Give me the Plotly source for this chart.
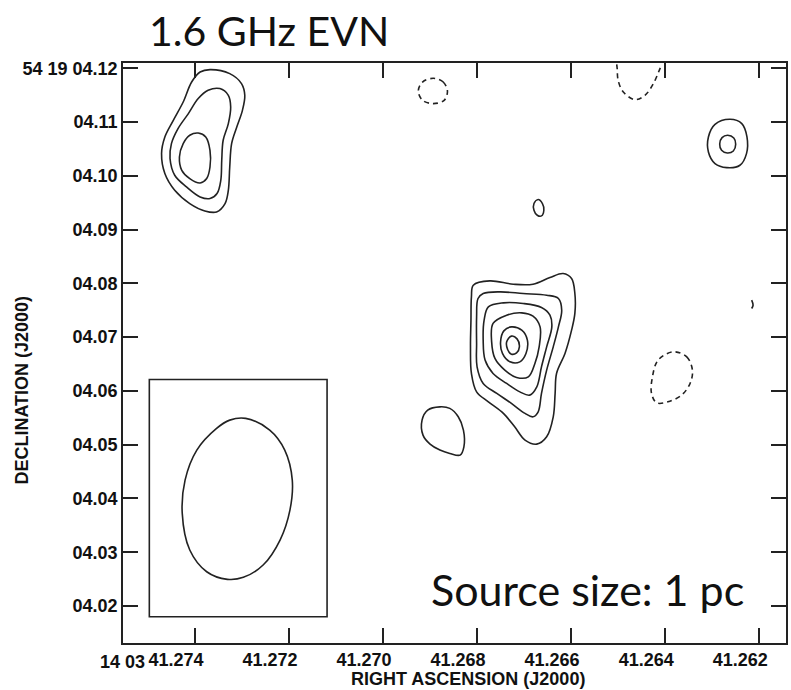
import plotly.graph_objects as go

# contour levels: RA seconds (14h03m) and Dec arcsec (+54d19m)
# north-east component
ne_outer_ra = [41.27368, 41.27326, 41.27301, 41.27294, 41.27299, 41.27311, 41.27322, 41.27326, 41.27329,
               41.27336, 41.27354, 41.27379, 41.27411, 41.27443, 41.27464, 41.27471, 41.27464, 41.27446,
               41.27425, 41.27407, 41.27389]
ne_outer_dec = [4.11976, 4.11901, 4.11716, 4.11498, 4.11219, 4.10909, 4.10600, 4.10165, 4.09732,
                4.09485, 4.09329, 4.09348, 4.09485, 4.09732, 4.10043, 4.10414, 4.10723, 4.11033,
                4.11374, 4.11745, 4.11931]
ne_mid_ra = [41.27347, 41.27329, 41.27324, 41.27329, 41.27340, 41.27343, 41.27345, 41.27353, 41.27368,
             41.27389, 41.27418, 41.27443, 41.27453, 41.27450, 41.27436, 41.27414, 41.27393, 41.27372]
ne_mid_dec = [4.11623, 4.11498, 4.11281, 4.10972, 4.10662, 4.10290, 4.09918, 4.09671, 4.09578,
              4.09608, 4.09794, 4.10011, 4.10322, 4.10600, 4.10879, 4.11158, 4.11437, 4.11591]
ne_inner_ra = [41.27393, 41.27377, 41.27368, 41.27368, 41.27375, 41.27389, 41.27411, 41.27428, 41.27433,
               41.27425, 41.27411]
ne_inner_dec = [4.10797, 4.10723, 4.10476, 4.10165, 4.09950, 4.09868, 4.09950, 4.10104, 4.10351,
                4.10600, 4.10755]

# north-west component
nw_outer_ra = [41.26262, 41.26237, 41.26226, 41.26227, 41.26241, 41.26269, 41.26294, 41.26308, 41.26308, 41.26294]
nw_outer_dec = [4.11052, 4.10972, 4.10723, 4.10414, 4.10197, 4.10154, 4.10229, 4.10444, 4.10723, 4.10959]
nw_inner_ra = [41.26267, 41.26254, 41.26250, 41.26255, 41.26268, 41.26280, 41.26284, 41.26279]
nw_inner_dec = [4.10755, 4.10704, 4.10587, 4.10463, 4.10426, 4.10476, 4.10593, 4.10712]

# main component
m1_ra = [41.26808, 41.26773, 41.26723, 41.26681, 41.26645, 41.26617, 41.26599, 41.26592, 41.26592, 41.26599,
         41.26613, 41.26631, 41.26634, 41.26638, 41.26652, 41.26673, 41.26698, 41.26720, 41.26744, 41.26776,
         41.26801, 41.26812, 41.26814, 41.26813, 41.26812]
m1_dec = [4.07967, 4.08046, 4.07985, 4.07985, 4.08110, 4.08184, 4.08091, 4.07812, 4.07441, 4.07130,
          4.06697, 4.06325, 4.05954, 4.05519, 4.05147, 4.05011, 4.05085, 4.05333, 4.05582, 4.05797,
          4.05983, 4.06325, 4.06820, 4.07316, 4.07749]
m2_ra = [41.26787, 41.26751, 41.26702, 41.26652, 41.26627, 41.26620, 41.26627, 41.26638, 41.26652, 41.26663,
         41.26670, 41.26681, 41.26698, 41.26727, 41.26758, 41.26787, 41.26800, 41.26801, 41.26801, 41.26798]
m2_dec = [4.07812, 4.07842, 4.07812, 4.07781, 4.07719, 4.07502, 4.07191, 4.06820, 4.06387, 4.05954,
          4.05612, 4.05519, 4.05582, 4.05768, 4.05954, 4.06139, 4.06448, 4.06883, 4.07377, 4.07719]
m3_ra = [41.26776, 41.26744, 41.26702, 41.26663, 41.26645, 41.26641, 41.26652, 41.26663, 41.26673, 41.26688,
         41.26709, 41.26737, 41.26766, 41.26783, 41.26787, 41.26785]
m3_dec = [4.07563, 4.07638, 4.07626, 4.07552, 4.07409, 4.07191, 4.06820, 4.06448, 4.06076, 4.05922,
          4.05983, 4.06139, 4.06325, 4.06573, 4.06944, 4.07316]
m4_ra = [41.26766, 41.26737, 41.26705, 41.26681, 41.26666, 41.26668, 41.26677, 41.26691, 41.26716, 41.26741,
         41.26762, 41.26769]
m4_dec = [4.07255, 4.07409, 4.07452, 4.07390, 4.07191, 4.06820, 4.06511, 4.06262, 4.06251, 4.06387,
          4.06604, 4.06913]
m5_ra = [41.26727, 41.26705, 41.26693, 41.26696, 41.26709, 41.26730, 41.26746, 41.26750, 41.26743]
m5_dec = [4.07191, 4.07130, 4.06944, 4.06697, 4.06541, 4.06541, 4.06697, 4.06913, 4.07117]
m6_ra = [41.26727, 41.26715, 41.26710, 41.26716, 41.26727, 41.26735, 41.26737]
m6_dec = [4.07019, 4.06968, 4.06820, 4.06708, 4.06684, 4.06771, 4.06913]

# small positive islands
sw_ra = [41.26917, 41.26905, 41.26879, 41.26858, 41.26840, 41.26829, 41.26828, 41.26836, 41.26858, 41.26879,
         41.26900, 41.26915]
sw_dec = [4.05457, 4.05643, 4.05704, 4.05675, 4.05519, 4.05271, 4.04961, 4.04807, 4.04838, 4.04900,
          4.05011, 4.05178]
blob_ra = [41.26670, 41.26661, 41.26658, 41.26663, 41.26672, 41.26679, 41.26679]
blob_dec = [4.09559, 4.09485, 4.09361, 4.09255, 4.09268, 4.09361, 4.09485]
hook_ra = [41.26216, 41.26213, 41.26216]
hook_dec = [4.07688, 4.07595, 4.07533]

# negative contours (dashed)
neg1_ra = [41.26893, 41.26872, 41.26863, 41.26870, 41.26893, 41.26916, 41.26925, 41.26916]
neg1_dec = [4.11814, 4.11745, 4.11578, 4.11405, 4.11344, 4.11405, 4.11578, 4.11745]
neg2_ra = [41.26503, 41.26502, 41.26500, 41.26489, 41.26464, 41.26443, 41.26425, 41.26411, 41.26407]
neg2_dec = [4.12074, 4.11994, 4.11777, 4.11559, 4.11418, 4.11498, 4.11716, 4.11994, 4.12074]
neg3_ra = [41.26383, 41.26354, 41.26342, 41.26347, 41.26365, 41.26394, 41.26418, 41.26429, 41.26427, 41.26415]
neg3_dec = [4.06727, 4.06634, 4.06387, 4.06139, 4.05922, 4.05797, 4.05779, 4.05954, 4.06262, 4.06573]

# restoring beam and its box
beam_ra = [41.27292, 41.27241, 41.27209, 41.27193, 41.27198, 41.27219, 41.27255, 41.27297, 41.27331,
           41.27375, 41.27411, 41.27427, 41.27421, 41.27396, 41.27354, 41.27326]
beam_dec = [4.05489, 4.05271, 4.04900, 4.04342, 4.03784, 4.03227, 4.02762, 4.02533, 4.02496,
            4.02637, 4.03041, 4.03723, 4.04342, 4.04900, 4.05303, 4.05457]
box_ra = [41.27497, 41.27119]
box_dec = [4.01801, 4.06214]

ra_ticks = [41.274, 41.272, 41.270, 41.268, 41.266, 41.264, 41.262]
ra_labels = ['41.274', '41.272', '41.270', '41.268', '41.266', '41.264', '41.262']
ra_prefix = '14 03'
dec_ticks = [4.12, 4.11, 4.10, 4.09, 4.08, 4.07, 4.06, 4.05, 4.04, 4.03, 4.02]
dec_labels = ['54 19 04.12', '04.11', '04.10', '04.09', '04.08', '04.07', '04.06', '04.05',
              '04.04', '04.03', '04.02']

INK = '#222222'


def loop(xs, ys, closed=True):
    if closed:
        xs = list(xs) + [xs[0]]
        ys = list(ys) + [ys[0]]
    return xs, ys


fig = go.Figure()

solid = [(ne_outer_ra, ne_outer_dec), (ne_mid_ra, ne_mid_dec), (ne_inner_ra, ne_inner_dec),
         (nw_outer_ra, nw_outer_dec), (nw_inner_ra, nw_inner_dec),
         (m1_ra, m1_dec), (m2_ra, m2_dec), (m3_ra, m3_dec), (m4_ra, m4_dec), (m5_ra, m5_dec),
         (m6_ra, m6_dec), (sw_ra, sw_dec), (blob_ra, blob_dec), (beam_ra, beam_dec)]
for xs, ys in solid:
    x, y = loop(xs, ys)
    fig.add_trace(go.Scatter(x=x, y=y, mode='lines',
                             line=dict(color=INK, width=1.6, shape='spline', smoothing=1.0)))

fig.add_trace(go.Scatter(x=hook_ra, y=hook_dec, mode='lines',
                         line=dict(color=INK, width=1.6, shape='spline')))

for xs, ys, closed in [(neg1_ra, neg1_dec, True), (neg2_ra, neg2_dec, False), (neg3_ra, neg3_dec, True)]:
    x, y = loop(xs, ys, closed)
    fig.add_trace(go.Scatter(x=x, y=y, mode='lines',
                             line=dict(color=INK, width=1.6, dash='5px,4px', shape='spline', smoothing=1.0)))

fig.add_shape(type='rect', x0=box_ra[0], x1=box_ra[1], y0=box_dec[0], y1=box_dec[1],
              line=dict(color=INK, width=1.6))

tickfont = dict(family='Liberation Sans, Arial', size=18, color='#111111', weight='bold')
fig.update_xaxes(range=[41.27553, 41.26143], tickvals=ra_ticks, ticktext=ra_labels, tickangle=0,
                 ticks='inside', ticklen=15, tickwidth=1.5, tickcolor=INK,
                 showline=True, linecolor=INK, linewidth=1.6, mirror='ticks', automargin=False,
                 showgrid=False, zeroline=False, tickfont=tickfont, ticklabelshift=19)
fig.update_yaxes(range=[4.01312, 4.12099], tickvals=dec_ticks, ticktext=dec_labels,
                 ticks='inside', ticklen=15, tickwidth=1.5, tickcolor=INK, automargin=False,
                 showline=True, linecolor=INK, linewidth=1.6, mirror='ticks',
                 showgrid=False, zeroline=False, tickfont=tickfont)

lab = dict(family='Liberation Sans, Arial', size=18, color='#111111', weight='bold')
# hours/minutes prefix of the first RA label
fig.add_annotation(text=ra_prefix, x=0.0365, y=-0.032, xref='paper', yref='paper',
                   xanchor='right', yanchor='middle', showarrow=False, font=tickfont)
fig.add_annotation(text='1.6 GHz EVN', x=0.036, y=1.056, xref='paper', yref='paper',
                   xanchor='left', yanchor='middle', showarrow=False,
                   font=dict(family='Lato, Carlito, Calibri, sans-serif', size=41, color='#111111'))
fig.add_annotation(text='Source size: 1 pc', x=0.462, y=0.092, xref='paper', yref='paper',
                   xanchor='left', yanchor='middle', showarrow=False,
                   font=dict(family='Lato, Carlito, Calibri, sans-serif', size=43, color='#111111'))
fig.add_annotation(text='RIGHT ASCENSION (J2000)', x=0.5204, y=-0.062, xref='paper', yref='paper',
                   xanchor='center', yanchor='middle', showarrow=False, font=lab)
fig.add_annotation(text='DECLINATION (J2000)', x=-0.1516, y=0.436, xref='paper', yref='paper',
                   xanchor='center', yanchor='middle', textangle=-90, showarrow=False, font=lab)

fig.update_layout(width=791, height=690, showlegend=False,
                  margin=dict(l=123, r=5, t=63, b=47),
                  plot_bgcolor='white', paper_bgcolor='white')

# drop the default page margin so the figure fills the window
fig.write_html("out.html", config={'displayModeBar': False},
               post_script="document.body.style.margin = '0';")
